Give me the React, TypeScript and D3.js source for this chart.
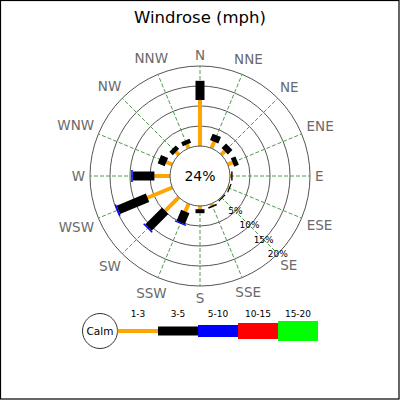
import React from 'react'
import * as d3 from 'd3'

const directions = ['N', 'NNE', 'NE', 'ENE', 'E', 'ESE', 'SE', 'SSE', 'S', 'SSW', 'SW', 'WSW', 'W', 'WNW', 'NW', 'NNW']
const rangeLabels = ['1-3', '3-5', '5-10', '10-15', '15-20']
const rangeColors = ['#ffa500', '#000000', '#0000ff', '#ff0000', '#00ff00']

// percent of observations per direction, one list per speed range
const range1to3 = [11.5, 1.75, 1.25, 1.3, 0.3, 0.3, 0.1, 0.5, 0.8, 2.1, 4.8, 6.7, 3.9, 1.6, 1.0, 1.0]
const range3to5 = [4.8, 1.75, 1.6, 1.25, 0.35, 0.3, 0.3, 0.4, 1.0, 3.0, 5.9, 7.9, 5.4, 1.9, 1.2, 1.1]
const range5to10 = [0, 0, 0, 0, 0, 0, 0, 0, 0, 0.3, 0.4, 0.4, 0.4, 0, 0, 0]
const range10to15 = [0, 0, 0, 0, 0, 0, 0, 0, 0, 0, 0, 0, 0, 0, 0, 0]
const range15to20 = [0, 0, 0, 0, 0, 0, 0, 0, 0, 0, 0, 0, 0, 0, 0, 0]
const calmPercent = 24
const ringTicks = [5, 10, 15, 20]

const series = [range1to3, range3to5, range5to10, range10to15, range15to20]
const barWidths = [4, 9, 12, 16, 20]

const W = 400
const cx = 200
const cy = 176
const calmR = 30
const font = 'DejaVu Sans, sans-serif'

const rScale = d3.scaleLinear().domain([0, 20]).range([calmR, 110])
const angleScale = d3.scalePoint<string>().domain(directions).range([0, 360 - 360 / directions.length])

const polar = (deg: number, r: number): [number, number] => {
  const a = (deg * Math.PI) / 180
  return [cx + r * Math.sin(a), cy - r * Math.cos(a)]
}

// rough text width for DejaVu Sans caps used in the compass labels
const capWidth: Record<string, number> = { N: 0.748, E: 0.632, S: 0.635, W: 0.989 }

const App: React.FC = () => {
  const outerR = rScale(20)

  const legendX = d3.scaleLinear().domain([0, rangeLabels.length]).range([118, 318])
  const legendY = 331

  return (
    <svg width={W} height={W} style={{ position: 'absolute', left: 0, top: 0, background: '#fff' }} fontFamily={font}>
      <rect x={0.5} y={0.5} width={W - 1.5} height={W - 1.5} fill="#fff" stroke="#000" strokeWidth={1.2} />
      <text x={cx} y={23} textAnchor="middle" fontSize={16.5} fill="#000">Windrose (mph)</text>

      {/* rings */}
      {ringTicks.map(t => (
        <circle key={t} cx={cx} cy={cy} r={rScale(t)} fill="none" stroke="#555" strokeWidth={1} />
      ))}

      {/* spokes */}
      {directions.map(d => {
        const a = angleScale(d) || 0
        const [x1, y1] = polar(a, calmR)
        const [x2, y2] = polar(a, outerR)
        return <line key={d} x1={x1} y1={y1} x2={x2} y2={y2} stroke="#4f9a4f" strokeWidth={1} strokeDasharray="4,2" />
      })}

      {/* bars */}
      {directions.map((d, i) => {
        const a = angleScale(d) || 0
        let cum = 0
        return (
          <g key={d}>
            {series.map((s, k) => {
              const v = s[i]
              if (!v) return null
              const [x1, y1] = polar(a, rScale(cum))
              cum += v
              const [x2, y2] = polar(a, rScale(cum))
              return <line key={k} x1={x1} y1={y1} x2={x2} y2={y2} stroke={rangeColors[k]} strokeWidth={barWidths[k]} />
            })}
          </g>
        )
      })}

      {/* calm circle */}
      <circle cx={cx} cy={cy} r={calmR} fill="#fff" stroke="#555" strokeWidth={1} />
      <text x={cx} y={cy} textAnchor="middle" dominantBaseline="central" fontSize={14} fill="#000">{calmPercent}%</text>

      {/* ring labels along SE */}
      {ringTicks.map(t => {
        const [x, y] = polar(135, rScale(t))
        return <text key={t} x={x} y={y} textAnchor="middle" dominantBaseline="central" fontSize={9} fill="#000">{t}%</text>
      })}

      {/* direction labels */}
      {directions.map(d => {
        const a = angleScale(d) || 0
        const rad = (a * Math.PI) / 180
        const fs = 13.5
        const w = d.split('').reduce((acc, c) => acc + (capWidth[c] || 0.7), 0) * fs
        const off = 115 + (w / 2) * Math.abs(Math.sin(rad)) + 6.5 * Math.abs(Math.cos(rad))
        const [x, y] = polar(a, off)
        return <text key={d} x={x} y={y} textAnchor="middle" dominantBaseline="central" fontSize={fs} fill="#6a6a6a">{d}</text>
      })}

      {/* legend */}
      <circle cx={100} cy={legendY} r={17.5} fill="#fff" stroke="#333" strokeWidth={1} />
      <text x={100} y={legendY} textAnchor="middle" dominantBaseline="central" fontSize={10.5} fill="#000">Calm</text>
      {rangeLabels.map((l, k) => {
        const x0 = legendX(k)
        const x1 = legendX(k + 1)
        const x0b = k === 0 ? 117.5 : x0
        return (
          <g key={l}>
            <rect x={x0b} y={legendY - barWidths[k] / 2} width={x1 - x0b} height={barWidths[k]} fill={rangeColors[k]} />
            <text x={(x0 + x1) / 2} y={314} textAnchor="middle" dominantBaseline="central" fontSize={9} fill="#000">{l}</text>
          </g>
        )
      })}
    </svg>
  )
}

export default App
